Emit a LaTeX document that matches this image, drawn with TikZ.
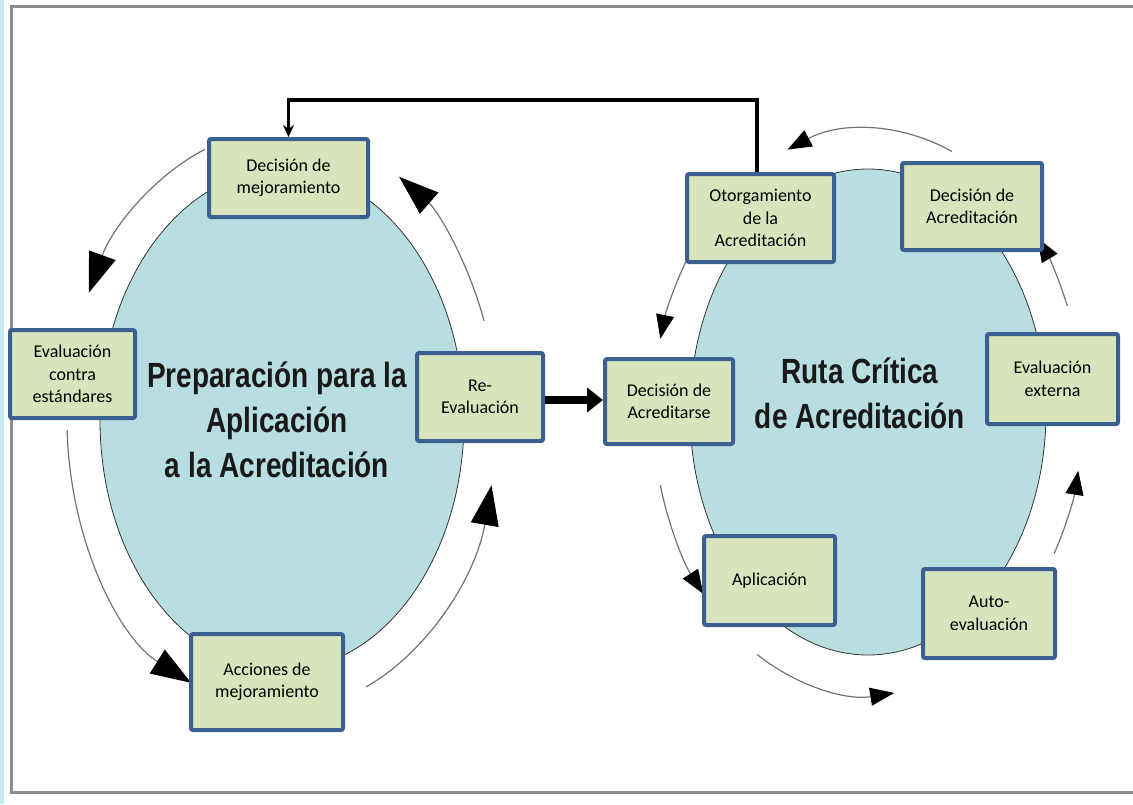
\documentclass[tikz,border=0pt]{standalone}
\usepackage{fontspec}
\setmainfont{Carlito}
\newfontfamily\titlefont[FakeStretch=0.8]{Liberation Sans}
\usetikzlibrary{arrows.meta,shapes.geometric}
\definecolor{boxgreen}{HTML}{D8E4BC}
\definecolor{boxblue}{HTML}{3C5F91}
\definecolor{coreblue}{HTML}{B9DEE1}
\definecolor{framegray}{HTML}{8C8C8C}
\definecolor{stripblue}{HTML}{C8E9EE}

\begin{document}
\begin{tikzpicture}
[x=1pt,y=-1pt
,box/.style={draw=boxblue,fill=boxgreen,line width=4pt,rounded corners=2pt,align=center,inner sep=0pt,font=\fontsize{18}{22.5}\selectfont}
,core/.style={ellipse,draw=black!80,fill=coreblue,line width=0.8pt,inner sep=0pt}
,ttl/.style={align=center,text=black!90,font=\titlefont\bfseries\fontsize{35}{45}\selectfont}
,cyc/.style={draw=black!55,line width=1.2pt,-{Triangle[length=40pt,width=28pt,color=black]}}
,cycs/.style={draw=black!55,line width=1.2pt,-{Triangle[length=24pt,width=18pt,color=black]}}
,fb/.style={draw=black,line width=3.5pt,-{Stealth[length=12pt,width=11pt]}}
,big/.style={draw=black,line width=8pt,-{Triangle[length=16pt,width=24pt]}}
]
\useasboundingbox (0,0) rectangle (1133,804);
\fill[stripblue] (0,0) rectangle (4,804);
\draw[framegray,line width=3pt] (1133,6) -- (11,6) -- (11,792) -- (1133,792);

\node[core,minimum width=364,minimum height=500] (prep) at (282,420) {};
\node[core,minimum width=356,minimum height=486] (ruta) at (868,412) {};
\node[ttl] (prept) at (277,420) {Preparación para la\\Aplicación\\a la Acreditación};
\node[ttl] (rutat) at (860,393) {Ruta Crítica\\de Acreditación};

\draw[cyc] (prep.center) ++(249:215 and 290) arc[start angle=249,end angle=206,x radius=215,y radius=290];
\draw[cyc] (prep.center) ++(178:215 and 290) arc[start angle=178,end angle=115,x radius=215,y radius=290];
\draw[cyc] (prep.center) ++(67:215 and 290) arc[start angle=67,end angle=13,x radius=215,y radius=290];
\draw[cyc] (prep.center) ++(-20:215 and 290) arc[start angle=-20,end angle=-57,x radius=215,y radius=290];

\draw[cycs] (ruta.center) ++(-67:215 and 283) arc[start angle=-67,end angle=-112,x radius=215,y radius=283];
\draw[cycs] (ruta.center) ++(212:215 and 283) arc[start angle=212,end angle=195,x radius=215,y radius=283];
\draw[cycs] (ruta.center) ++(165:215 and 283) arc[start angle=165,end angle=140,x radius=215,y radius=283];
\draw[cycs] (ruta.center) ++(121:215 and 283) arc[start angle=121,end angle=83,x radius=215,y radius=283];
\draw[cycs] (ruta.center) ++(30:215 and 283) arc[start angle=30,end angle=12,x radius=215,y radius=283];
\draw[cycs] (ruta.center) ++(-22:215 and 283) arc[start angle=-22,end angle=-38,x radius=215,y radius=283];

\node[box,minimum width=159,minimum height=78] (dmej) at (288.5,178) {Decisión de\\mejoramiento};
\node[box,minimum width=125,minimum height=88] (evcon) at (72.5,374) {Evaluación\\contra\\estándares};
\node[box,minimum width=126,minimum height=88] (reev) at (480,397) {Re-\\Evaluación};
\node[box,minimum width=152,minimum height=96] (accmej) at (267,682) {Acciones de\\mejoramiento};
\node[box,minimum width=128,minimum height=85] (dacrse) at (669,401.5) {Decisión de\\Acreditarse};
\node[box,minimum width=147,minimum height=88] (otorg) at (760.5,218) {Otorgamiento\\de la\\Acreditación};
\node[box,minimum width=140,minimum height=87] (dacred) at (972,206.5) {Decisión de\\Acreditación};
\node[box,minimum width=131,minimum height=90] (evext) at (1052.5,379) {Evaluación\\externa};
\node[box,minimum width=131,minimum height=89] (aplic) at (769.5,580.5) {Aplicación};
\node[box,minimum width=132,minimum height=89] (autoev) at (989,613.5) {Auto-\\evaluación};

\coordinate (fbtop) at (757,100);
\draw[fb] (otorg.north -| fbtop) -- (fbtop) -| (dmej.north);
\draw[big] (reev.east) ++(0,3) -- (dacrse.west |- 0,400);
\end{tikzpicture}
\end{document}
